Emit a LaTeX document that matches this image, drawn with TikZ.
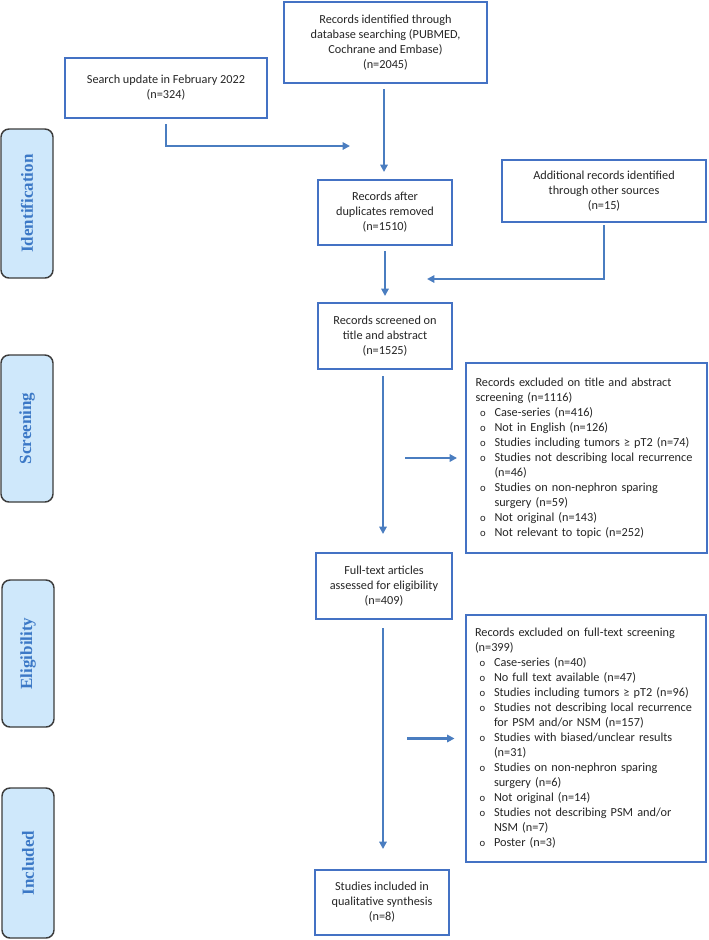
\documentclass[tikz,border=0pt]{standalone}
\usepackage{fontspec}
\setmainfont{Carlito}
\newfontfamily\sidefont{Liberation Serif}
\usetikzlibrary{arrows.meta}
\definecolor{boxblue}{HTML}{4472C4}
\definecolor{arrblue}{HTML}{4A7DC0}
\definecolor{sidefill}{HTML}{CFE8FB}
\definecolor{sidetext}{HTML}{3B78C6}
\definecolor{sideline}{HTML}{3C3C3C}
\definecolor{txt}{HTML}{262626}
\newcommand\pbul{\makebox[14.25pt][l]{\hspace{3.5pt}{\fontsize{8}{8}\selectfont o}}}
\newcommand\pind{\hspace*{14.25pt}}
\tikzset{
  boxnode/.style={draw=boxblue, line width=1.5pt, fill=white, align=center, text=txt,
    font=\fontsize{9.2}{11.25}\selectfont, inner sep=2pt},
  exbox/.style={boxnode, align=left, text width=166.5pt, inner xsep=7.1pt},
  sidebox/.style={draw=sideline, line width=1.1pt, fill=sidefill, rounded corners=6pt,
    rotate=90, minimum height=39pt, text=sidetext,
    font=\sidefont\bfseries\fontsize{12.75}{14}\selectfont},
  arr/.style={draw=arrblue, line width=1.8pt, -{Triangle[length=5.5pt,width=5.5pt]}}
}
\begin{document}
\begin{tikzpicture}[x=0.75pt,y=-0.75pt]
\useasboundingbox[fill=white] (0,0) rectangle (708,940);
% side labels
\node[sidebox, minimum width=111.75pt] (sid) at (27,203.5) {Identification};
\node[sidebox, minimum width=110.25pt] (sscr) at (27,428.5) {Screening};
\node[sidebox, minimum width=110.25pt] (sel) at (28,653.5) {Eligibility};
\node[sidebox, minimum width=112.5pt] (sinc) at (28,863) {Included};
% main boxes
\node[boxnode, minimum width=152.25pt, minimum height=60.75pt] (top) at (385.5,42.5)
  {Records identified through\\database searching (PUBMED,\\Cochrane and Embase)\\(n=2045)};
\node[boxnode, minimum width=151.5pt, minimum height=45pt] (srch) at (166,88)
  {Search update in February 2022\\(n=324)};
\node[boxnode, minimum width=100.5pt, minimum height=48.75pt] (dup) at (385,212.5)
  {Records after\\duplicates removed\\(n=1510)};
\node[boxnode, minimum width=153pt, minimum height=46.5pt] (add) at (604,191)
  {Additional records identified\\through other sources\\(n=15)};
\node[boxnode, minimum width=100.5pt, minimum height=49.5pt] (scr) at (385,336)
  {Records screened on\\title and abstract\\(n=1525)};
\node[exbox, minimum height=142.5pt] (ex1) at (586.5,458)
  {Records excluded on title and abstract\\
   screening (n=1116)\\
   \pbul Case-series (n=416)\\
   \pbul Not in English (n=126)\\
   \pbul Studies including tumors ≥ pT2 (n=74)\\
   \pbul Studies not describing local recurrence\\
   \pind (n=46)\\
   \pbul Studies on non-nephron sparing\\
   \pind surgery (n=59)\\
   \pbul Not original (n=143)\\
   \pbul Not relevant to topic (n=252)};
\node[boxnode, minimum width=102pt, minimum height=49.5pt] (ft) at (384,586)
  {Full-text articles\\assessed for eligibility\\(n=409)};
\node[exbox, minimum height=185.25pt] (ex2) at (586,738.5)
  {Records excluded on full-text screening\\
   (n=399)\\
   \pbul Case-series (n=40)\\
   \pbul No full text available (n=47)\\
   \pbul Studies including tumors ≥ pT2 (n=96)\\
   \pbul Studies not describing local recurrence\\
   \pind for PSM and/or NSM (n=157)\\
   \pbul Studies with biased/unclear results\\
   \pind (n=31)\\
   \pbul Studies on non-nephron sparing\\
   \pind surgery (n=6)\\
   \pbul Not original (n=14)\\
   \pbul Studies not describing PSM and/or\\
   \pind NSM (n=7)\\
   \pbul Poster (n=3)};
\node[boxnode, minimum width=100.5pt, minimum height=48.75pt] (inc) at (382,902.5)
  {Studies included in\\qualitative synthesis\\(n=8)};
% free ends
\coordinate (sa) at (350,146);
\coordinate (aa) at (427,279);
\coordinate (e1s) at (405,458);
\coordinate (e2s) at (407,738.5);
% connectors
\draw[arr, shorten <=3.75pt, shorten >=5.25pt] (top.south -| 384,0) -- (dup.north -| 384,0);
\draw[arr, shorten <=3.75pt] (srch.south) -- (srch.south |- sa) -- (sa);
\draw[arr, shorten <=3.75pt, shorten >=4.5pt] (dup.south) -- (scr.north);
\draw[arr, shorten <=1.5pt] (add.south) -- (add.south |- aa) -- (aa);
\draw[arr, shorten <=4.5pt, shorten >=13.5pt] (scr.south -| 383,0) -- (ft.north -| 383,0);
\draw[arr, shorten >=6pt] (e1s) -- (e1s -| ex1.west);
\draw[arr, shorten <=6pt, shorten >=15pt] (ft.south -| 383,0) -- (inc.north -| 383,0);
\draw[arr, shorten >=7.5pt] (e2s) -- (e2s -| ex2.west);
\end{tikzpicture}
\end{document}
